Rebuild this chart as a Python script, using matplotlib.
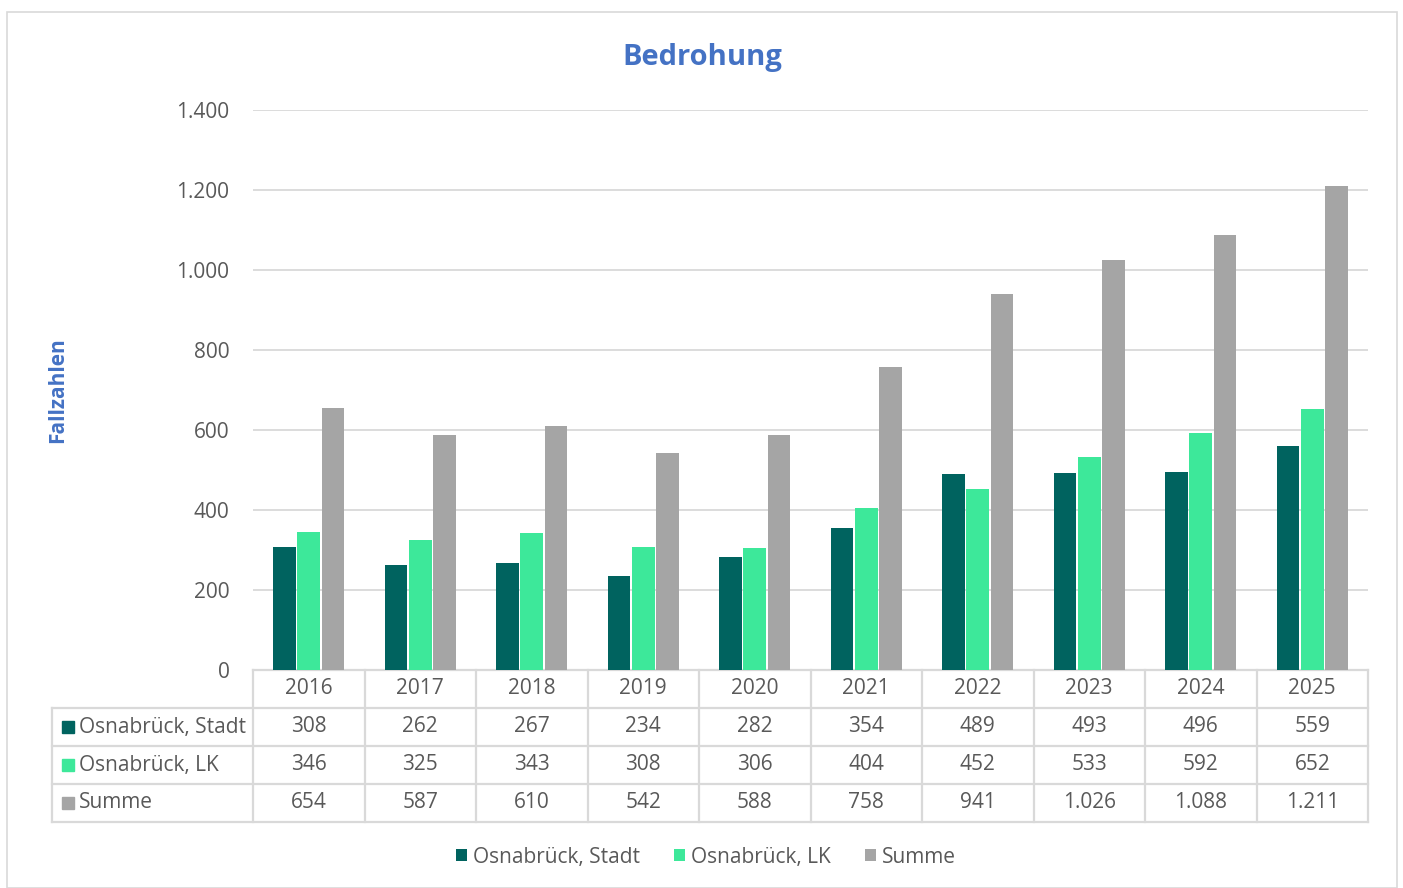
import numpy as np
import matplotlib.pyplot as plt
from matplotlib.patches import Rectangle
from matplotlib.transforms import blended_transform_factory

plt.rcParams['font.family'] = ['Open Sans', 'DejaVu Sans']

# Daten
jahre = ['2016', '2017', '2018', '2019', '2020', '2021', '2022', '2023', '2024', '2025']
stadt = [308, 262, 267, 234, 282, 354, 489, 493, 496, 559]
lk = [346, 325, 343, 308, 306, 404, 452, 533, 592, 652]
summe = [654, 587, 610, 542, 588, 758, 941, 1026, 1088, 1211]
serien = ['Osnabrück, Stadt', 'Osnabrück, LK', 'Summe']
farben = ['#00635F', '#3DE89A', '#A5A5A5']

TEXT = '#595959'
GRID = '#D9D9D9'
BLAU = '#4472C4'
FS = 15


def fmt(v):
    return f'{v:,}'.replace(',', '.')


fig = plt.figure(figsize=(14.03, 8.88), dpi=100)
fig.add_artist(Rectangle((7 / 1403, 0), 1390 / 1403, 876 / 888, transform=fig.transFigure,
                         fill=False, edgecolor=GRID, linewidth=1.2))
ax = fig.add_axes([253 / 1403, 1 - 670 / 888, 1115 / 1403, 560 / 888])

x = np.arange(len(jahre))
w = 0.205
for i, (werte, name, farbe) in enumerate(zip([stadt, lk, summe], serien, farben)):
    ax.bar(x + (i - 1) * (w + 0.012), werte, width=w, color=farbe, label=name, zorder=3)

ax.set_xlim(-0.5, len(jahre) - 0.5)
ax.set_ylim(0, 1400)
ax.set_yticks(range(0, 1401, 200))
ax.set_yticklabels([fmt(v) for v in range(0, 1401, 200)])
ax.set_xticks([])
ax.tick_params(axis='y', length=0, pad=17, labelsize=FS, labelcolor=TEXT)
ax.grid(axis='y', color=GRID, linewidth=1.3, zorder=0)
for s in ['top', 'right', 'left', 'bottom']:
    ax.spines[s].set_visible(False)

fig.text(702 / 1403, 1 - 57 / 888, 'Bedrohung', ha='center', va='center',
         fontsize=21, fontweight='bold', color=BLAU)
fig.text(58 / 1403, 1 - 390 / 888, 'Fallzahlen', rotation=90, ha='center', va='center',
         fontsize=15, fontweight='bold', color=BLAU)

# Datentabelle
tr = blended_transform_factory(ax.transData, ax.transAxes)
rh = 38 / 560
links = -0.5 - 201 / 111.5
n = len(jahre)
lw = 1.6
# horizontale Linien
ax.plot([-0.5, n - 0.5], [0, 0], transform=tr, color=GRID, lw=lw, clip_on=False)
for k in range(1, 5):
    ax.plot([links, n - 0.5], [-k * rh, -k * rh], transform=tr, color=GRID, lw=lw, clip_on=False)
# vertikale Linien
for j in range(n + 1):
    ax.plot([j - 0.5, j - 0.5], [0, -4 * rh], transform=tr, color=GRID, lw=lw, clip_on=False)
ax.plot([links, links], [-rh, -4 * rh], transform=tr, color=GRID, lw=lw, clip_on=False)

for j, jahr in enumerate(jahre):
    ax.text(j, -0.5 * rh, jahr, transform=tr, ha='center', va='center', fontsize=FS, color=TEXT)
for r, (werte, name, farbe) in enumerate(zip([stadt, lk, summe], serien, farben)):
    yc = -(r + 1.5) * rh
    for j, v in enumerate(werte):
        ax.text(j, yc, fmt(v), transform=tr, ha='center', va='center', fontsize=FS, color=TEXT)
    ax.plot([links + 0.14], [yc], transform=tr, marker='s', markersize=8, color=farbe,
            clip_on=False, linestyle='none')
    ax.text(links + 0.24, yc, name, transform=tr, ha='left', va='center', fontsize=FS, color=TEXT)

leg = fig.legend(loc='center', bbox_to_anchor=(706 / 1403, 1 - 857 / 888), ncol=3, frameon=False,
                 fontsize=FS, handlelength=0.55, handleheight=0.55, handletextpad=0.3,
                 columnspacing=1.6)
for t in leg.get_texts():
    t.set_color(TEXT)

fig.savefig('out.png', dpi=100)
